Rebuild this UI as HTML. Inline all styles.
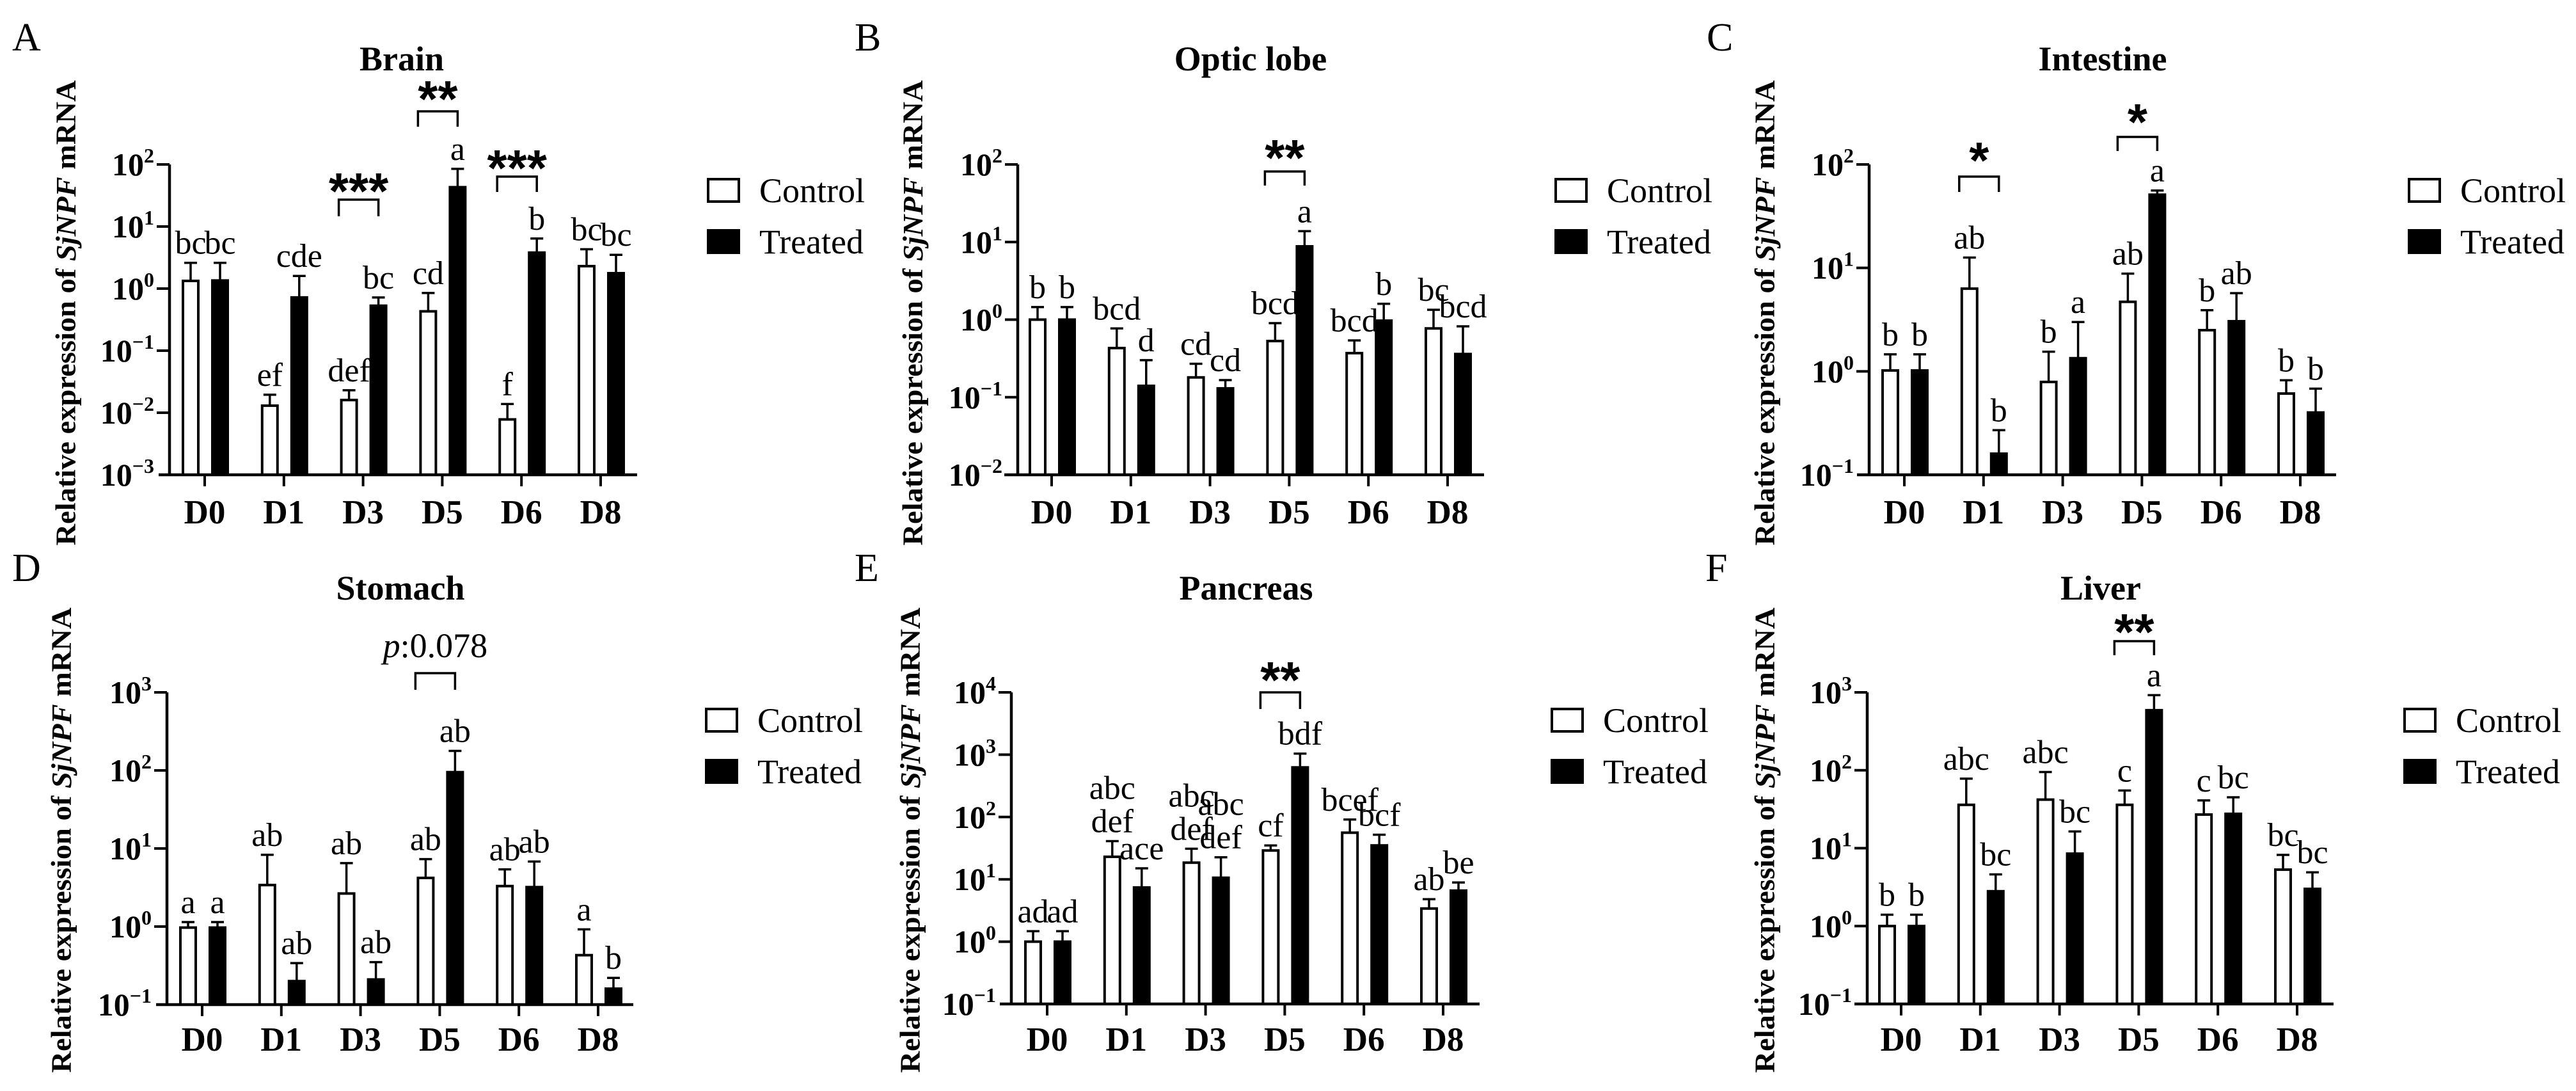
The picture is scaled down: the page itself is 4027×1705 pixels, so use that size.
<!DOCTYPE html>
<html><head><meta charset="utf-8"><style>
html,body{margin:0;padding:0;background:#fff;}
svg{display:block;}
text{font-family:"Liberation Serif",serif;fill:#000;}
</style></head><body>
<svg id="fig" width="4027" height="1705" viewBox="0 0 4027 1705" xmlns="http://www.w3.org/2000/svg"></svg>
<script>
const days = ["D0","D1","D3","D5","D6","D8"];
// Brain
const brainControl = [1.33,0.013,0.016,0.43,0.0078,2.3];
const brainControlErr = [2.6,0.0195,0.023,0.85,0.0138,4.3];
const brainTreated = [1.35,0.72,0.53,43,3.8,1.77];
const brainTreatedErr = [2.6,1.6,0.72,85,6.4,3.5];
const brainControlLetters = ["bc","ef","def","cd","f","bc"];
const brainTreatedLetters = ["bc","cde","bc","a","b","bc"];
// Optic lobe
const opticControl = [1.0,0.43,0.18,0.53,0.37,0.77];
const opticControlErr = [1.45,0.77,0.27,0.9,0.54,1.34];
const opticTreated = [1.0,0.14,0.13,8.8,0.97,0.36];
const opticTreatedErr = [1.45,0.3,0.166,13.8,1.6,0.82];
const opticControlLetters = ["b","bcd","cd","bcd","bcd","bc"];
const opticTreatedLetters = ["b","d","cd","a","b","bcd"];
// Intestine
const intControl = [1.02,6.3,0.79,4.7,2.5,0.61];
const intControlErr = [1.46,12.6,1.55,8.8,3.9,0.82];
const intTreated = [1.02,0.16,1.34,51,3.05,0.40];
const intTreatedErr = [1.46,0.27,3.0,56,5.7,0.68];
const intControlLetters = ["b","ab","b","ab","b","b"];
const intTreatedLetters = ["b","b","a","a","ab","b"];
// Stomach
const stoControl = [0.97,3.4,2.65,4.2,3.3,0.43];
const stoControlErr = [1.14,8.3,6.5,7.3,5.4,0.92];
const stoTreated = [0.97,0.2,0.21,95,3.2,0.16];
const stoTreatedErr = [1.14,0.34,0.35,178,6.8,0.22];
const stoControlLetters = ["a","ab","ab","ab","ab","a"];
const stoTreatedLetters = ["a","ab","ab","ab","ab","b"];
// Pancreas
const panControl = [1.0,23,18.5,29,56,3.4];
const panControlErr = [1.47,41,31,35,91,4.8];
const panTreated = [1.0,7.4,10.6,625,35,6.6];
const panTreatedErr = [1.47,15,22.6,1040,52,8.9];
const panControlLetters = ["ad","abc|def","abc|def","cf","bcef","ab"];
const panTreatedLetters = ["ad","ace","abc|def","bdf","bcf","be"];
// Liver
const livControl = [1.0,36,42,36,27,5.3];
const livControlErr = [1.4,78,95,55,41,8.2];
const livTreated = [1.0,2.8,8.5,590,27.6,3.0];
const livTreatedErr = [1.4,4.6,16.4,920,45,4.9];
const livControlLetters = ["b","abc","abc","c","c","bc"];
const livTreatedLetters = ["b","bc","bc","a","bc","bc"];

const NS = "http://www.w3.org/2000/svg";
const svg = document.getElementById("fig");
function mk(tag, attrs, parent){
  const e = document.createElementNS(NS, tag);
  for (const k in attrs) e.setAttribute(k, attrs[k]);
  (parent||svg).appendChild(e);
  return e;
}

const panels = [
 {letter:"A", title:"Brain", ax:265, d0:320, x0:248, x1:996, top:257, bot:742, lmax:2, lmin:-3,
  lx:19, ly:79, tx:628, ty:110, ytx:103, yty:489, legX:1105, legY:278, xly:818,
  c:brainControl, ce:brainControlErr, t:brainTreated, te:brainTreatedErr, cl:brainControlLetters, tl:brainTreatedLetters,
  br:[{i:2,top:312,leg:338,s:"***",sy:280},{i:3,top:174,leg:198,s:"**",sy:136},{i:4,top:276,leg:300,s:"***",sy:244}]},
 {letter:"B", title:"Optic lobe", ax:1591, d0:1644, x0:1570, x1:2320, top:257, bot:742, lmax:2, lmin:-2,
  lx:1336, ly:79, tx:1955, ty:110, ytx:1427, yty:489, legX:2430, legY:278, xly:818,
  c:opticControl, ce:opticControlErr, t:opticTreated, te:opticTreatedErr, cl:opticControlLetters, tl:opticTreatedLetters,
  br:[{i:3,top:268,leg:290,s:"**",sy:228}]},
 {letter:"C", title:"Intestine", ax:2922, d0:2977, x0:2903, x1:3652, top:257, bot:742, lmax:2, lmin:-1,
  lx:2668, ly:79, tx:3287, ty:110, ytx:2759, yty:489, legX:3764, legY:278, xly:818,
  c:intControl, ce:intControlErr, t:intTreated, te:intTreatedErr, cl:intControlLetters, tl:intTreatedLetters,
  br:[{i:1,top:276,leg:300,s:"*",sy:232},{i:3,top:214,leg:236,s:"*",sy:172}]},
 {letter:"D", title:"Stomach", ax:261, d0:316, x0:244, x1:990, top:1082, bot:1570, lmax:3, lmin:-1,
  lx:19, ly:908, tx:626, ty:937, ytx:96, yty:1313, legX:1102, legY:1106, xly:1642,
  c:stoControl, ce:stoControlErr, t:stoTreated, te:stoTreatedErr, cl:stoControlLetters, tl:stoTreatedLetters,
  br:[{i:3,top:1052,leg:1078,p:true,sy:1009}]},
 {letter:"E", title:"Pancreas", ax:1581, d0:1637, x0:1563, x1:2313, top:1082, bot:1569, lmax:4, lmin:-1,
  lx:1336, ly:908, tx:1948, ty:937, ytx:1423, yty:1313, legX:2424, legY:1106, xly:1642,
  c:panControl, ce:panControlErr, t:panTreated, te:panTreatedErr, cl:panControlLetters, tl:panTreatedLetters,
  br:[{i:3,top:1082,leg:1108,s:"**",sy:1044}]},
 {letter:"F", title:"Liver", ax:2919, d0:2972, x0:2899, x1:3648, top:1082, bot:1569, lmax:3, lmin:-1,
  lx:2666, ly:908, tx:3284, ty:937, ytx:2759, yty:1313, legX:3757, legY:1106, xly:1642,
  c:livControl, ce:livControlErr, t:livTreated, te:livTreatedErr, cl:livControlLetters, tl:livTreatedLetters,
  br:[{i:3,top:1002,leg:1024,s:"**",sy:969}]}
];
const STEP = 123.8;

panels.forEach(P => {
  const g = mk("g", {});
  
  
  const yS = v => P.bot - (Math.log10(v) - P.lmin) / (P.lmax - P.lmin) * (P.bot - P.top);
  const xS = i => P.d0 + i * STEP;

  const pl = mk("text", {x:P.lx, y:P.ly, "font-size":62}, g);
  pl.textContent = P.letter;
  
  

  const tt = mk("text", {x:P.tx, y:P.ty, "font-size":54, "font-weight":"bold", "text-anchor":"middle"}, g);
  tt.textContent = P.title;
  
  

  const yt = mk("text", {x:0, y:0, "font-size":44, "font-weight":"bold", "text-anchor":"middle",
    "dominant-baseline":"central", transform:`translate(${P.ytx},${P.yty}) rotate(-90)`, textLength:727, lengthAdjust:"spacingAndGlyphs"}, g);
  yt.innerHTML = 'Relative expression of <tspan font-style="italic">SjNPF</tspan> mRNA';
  
  

  // bars
  for (let i = 0; i < days.length; i++) {
    const cx = xS(i) - 22, tx = xS(i) + 24;
    [[cx, P.c[i], P.ce[i], "#fff", "control"], [tx, P.t[i], P.te[i], "#000", "treated"]].forEach(([bx, v, e, fill, nm]) => {
      const yv = yS(v), ye = yS(e);
      const ln = mk("line", {x1:bx, x2:bx, y1:yv, y2:ye, stroke:"#000", "stroke-width":3.5}, g);
      
      
      const cap = mk("line", {x1:bx-10, x2:bx+10, y1:ye, y2:ye, stroke:"#000", "stroke-width":3.5}, g);
      
      
      const r = mk("rect", {x:bx-12, y:yv, width:24, height:P.bot - yv, fill:fill, stroke:"#000", "stroke-width":4}, g);
      
      
    });
    [[cx, P.ce[i], P.cl[i]], [tx, P.te[i], P.tl[i]]].forEach(([bx, e, lab]) => {
      const base = yS(e) - 14;
      const parts = lab.split("|");
      parts.forEach((s, k) => {
        const lt = mk("text", {x:bx, y:base - (parts.length - 1 - k) * 52, "font-size":52, "text-anchor":"middle"}, g);
        lt.textContent = s;
        
        
      });
    });
  }

  // axes
  const ya = mk("line", {x1:P.ax, x2:P.ax, y1:P.top, y2:P.bot, stroke:"#000", "stroke-width":4.5}, g);
  
  
  const xa = mk("line", {x1:P.x0, x2:P.x1, y1:P.bot, y2:P.bot, stroke:"#000", "stroke-width":4.5}, g);
  
  
  for (let k = P.lmin; k <= P.lmax; k++) {
    const y = yS(Math.pow(10, k));
    if (k !== P.lmin) {
      const tk = mk("line", {x1:P.ax - 20, x2:P.ax, y1:y, y2:y, stroke:"#000", "stroke-width":4}, g);
      
      
    }
    const lab = mk("text", {x:P.ax - 24, y:y + 17, "font-size":50, "font-weight":"bold", "text-anchor":"end"}, g);
    lab.innerHTML = '10<tspan dy="-20" font-size="32">' + (k < 0 ? '\u2212' + (-k) : k) + '</tspan>';
    
    
  }
  for (let i = 0; i < days.length; i++) {
    const tk = mk("line", {x1:xS(i), x2:xS(i), y1:P.bot, y2:P.bot + 18, stroke:"#000", "stroke-width":4}, g);
    
    
    const lab = mk("text", {x:xS(i), y:P.xly, "font-size":53, "font-weight":"bold", "text-anchor":"middle"}, g);
    lab.textContent = days[i];
    
    
  }

  // brackets
  P.br.forEach(b => {
    const a = xS(b.i) - 38, c = xS(b.i) + 24;
    const pth = mk("path", {d:`M${a},${b.leg} L${a},${b.top} L${c},${b.top} L${c},${b.leg}`, fill:"none", stroke:"#000", "stroke-width":3.5}, g);
    
    
    let st;
    if (b.p) {
      st = mk("text", {x:(a + c) / 2, y:b.sy + 18, "font-size":54, "text-anchor":"middle"}, g);
      st.innerHTML = '<tspan font-style="italic">p</tspan>:0.078';
    } else {
      st = mk("text", {x:(a + c) / 2, y:b.sy + 46, "font-size":80, "font-weight":"bold", "text-anchor":"middle", style:'font-family:"Liberation Sans",sans-serif'}, g);
      st.textContent = b.s;
    }
    
    
  });

  // legend
  const lg = mk("g", {}, g);
  
  
  [["Control", "#fff", 0], ["Treated", "#000", 80]].forEach(([nm, fill, dy]) => {
    const bx = mk("rect", {x:P.legX + 2, y:P.legY + dy + 2, width:48, height:35, fill:fill, stroke:"#000", "stroke-width":4}, lg);
    
    
    const lt = mk("text", {x:P.legX + 82, y:P.legY + dy + 38, "font-size":54}, lg);
    lt.textContent = nm;
    
    
  });
});
</script>
</body></html>
